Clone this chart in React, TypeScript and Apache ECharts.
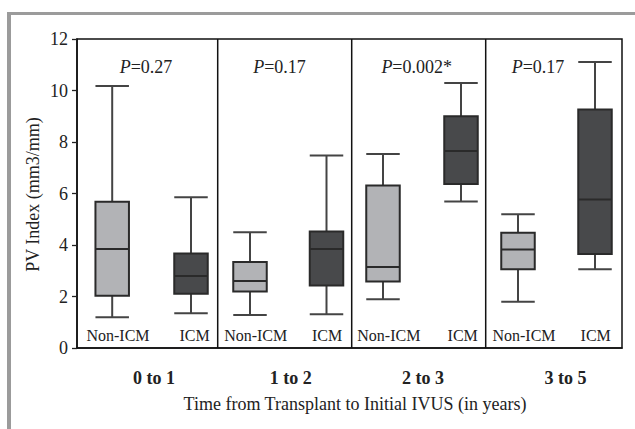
import React, { useEffect, useRef } from "react";
import * as echarts from "echarts";

// ---- data ----
const groups = ["0 to 1", "1 to 2", "2 to 3", "3 to 5"];
const pValues = ["0.27", "0.17", "0.002*", "0.17"];
const typeNames = ["Non-ICM", "ICM"];

const nonIcmMin = [1.19, 1.28, 1.89, 1.8];
const nonIcmQ1 = [2.03, 2.19, 2.58, 3.06];
const nonIcmMedian = [3.84, 2.6, 3.15, 3.83];
const nonIcmQ3 = [5.68, 3.34, 6.31, 4.48];
const nonIcmMax = [10.17, 4.5, 7.53, 5.19];

const icmMin = [1.35, 1.31, 5.69, 3.06];
const icmQ1 = [2.11, 2.43, 6.37, 3.65];
const icmMedian = [2.8, 3.84, 7.65, 5.77];
const icmQ3 = [3.67, 4.52, 9.0, 9.26];
const icmMax = [5.85, 7.48, 10.29, 11.11];

const yTicks = [0, 2, 4, 6, 8, 10, 12];

// ---- layout (x axis in plot units) ----
const X_MAX = 545;
const nonIcmX = [35.2, 173, 306, 441];
const icmX = [114, 249.5, 384, 518];
const dividerX = [140.7, 274.7, 408.7];
const BOX_W = 33.5;

const FONT = "'Liberation Serif', 'Times New Roman', serif";
const TXT = "#222";
const LIGHT = "#b2b3b6";
const DARK = "#48494b";

export default function App() {
  const ref = useRef<HTMLDivElement>(null);

  useEffect(() => {
    if (!ref.current) return;
    const chart = echarts.init(ref.current, undefined, { renderer: "svg" });

    const boxData: number[][] = [];
    groups.forEach((_, i) => {
      boxData.push([nonIcmX[i], nonIcmMin[i], nonIcmQ1[i], nonIcmMedian[i], nonIcmQ3[i], nonIcmMax[i], 0]);
      boxData.push([icmX[i], icmMin[i], icmQ1[i], icmMedian[i], icmQ3[i], icmMax[i], 1]);
    });

    const pLabelX = [146, 279.5, 416.7, 538];
    const typeLabelX = [118, 194.5, 255.7, 327, 388.8, 462.7, 524, 595.7];
    const groupLabelX = [154, 290.8, 423, 565.5];

    const graphics: any[] = [
      { type: "rect", shape: { x: 7, y: 12, width: 4, height: 420 }, style: { fill: "#9b9b9b" } },
      { type: "rect", shape: { x: 7, y: 12, width: 630, height: 3 }, style: { fill: "#9b9b9b" } },
      {
        type: "text",
        x: 33,
        y: 194.5,
        rotation: Math.PI / 2,
        style: {
          text: "PV Index (mm3/mm)",
          font: `18px ${FONT}`,
          fill: TXT,
          align: "center",
          verticalAlign: "middle",
        },
      },
      {
        type: "text",
        x: 355,
        y: 404,
        style: {
          text: "Time from Transplant to Initial IVUS (in years)",
          font: `18px ${FONT}`,
          fill: TXT,
          align: "center",
          verticalAlign: "middle",
        },
      },
    ];
    groups.forEach((g, i) => {
      graphics.push({
        type: "text",
        x: groupLabelX[i],
        y: 377.5,
        style: { text: g, font: `bold 18px ${FONT}`, fill: TXT, align: "center", verticalAlign: "middle" },
      });
      graphics.push({
        type: "text",
        x: pLabelX[i],
        y: 66.5,
        style: {
          text: `{i|P}=${pValues[i]}`,
          font: `18px ${FONT}`,
          fill: TXT,
          align: "center",
          verticalAlign: "middle",
          rich: { i: { fontStyle: "italic", fontSize: 18, fontFamily: FONT, fill: TXT } },
        },
      });
      for (let k = 0; k < 2; k++) {
        graphics.push({
          type: "text",
          x: typeLabelX[i * 2 + k],
          y: 335.5,
          style: {
            text: typeNames[k],
            font: `16px ${FONT}`,
            fill: TXT,
            align: "center",
            verticalAlign: "middle",
          },
        });
      }
    });

    chart.setOption({
      animation: false,
      grid: {
        left: 77,
        right: 13,
        top: 39,
        bottom: 81,
        show: true,
        borderColor: "#111",
        borderWidth: 1.5,
        backgroundColor: "transparent",
      },
      xAxis: {
        type: "value",
        min: 0,
        max: X_MAX,
        axisLine: { show: true, lineStyle: { color: "#111", width: 1.5 } },
        axisTick: { show: false },
        axisLabel: { show: false },
        splitLine: { show: false },
      },
      yAxis: {
        type: "value",
        min: yTicks[0],
        max: yTicks[yTicks.length - 1],
        interval: 2,
        axisLine: { show: true, lineStyle: { color: "#111", width: 1.5 } },
        axisTick: { show: true, length: 5, lineStyle: { color: "#222", width: 1.3 } },
        axisLabel: { margin: 9, fontFamily: FONT, fontSize: 18, color: TXT },
        splitLine: { show: false },
      },
      series: [
        {
          type: "custom",
          silent: true,
          data: dividerX.map((x) => [x]),
          encode: { x: 0 },
          renderItem: (params: any, api: any) => {
            const x = api.value(0);
            const p0 = api.coord([x, 0]);
            const p1 = api.coord([x, 12]);
            return {
              type: "line",
              shape: { x1: p0[0], y1: p0[1], x2: p1[0], y2: p1[1] },
              style: { stroke: "#111", lineWidth: 1.5 },
            };
          },
        },
        {
          type: "custom",
          silent: true,
          data: boxData,
          encode: { x: 0, y: [1, 2, 3, 4, 5] },
          renderItem: (params: any, api: any) => {
            const x = api.value(0);
            const cx = api.coord([x, 0])[0];
            const yMin = api.coord([x, api.value(1)])[1];
            const yQ1 = api.coord([x, api.value(2)])[1];
            const yMed = api.coord([x, api.value(3)])[1];
            const yQ3 = api.coord([x, api.value(4)])[1];
            const yMax = api.coord([x, api.value(5)])[1];
            const half = api.size([BOX_W, 0])[0] / 2;
            const fill = api.value(6) === 0 ? LIGHT : DARK;
            const wStyle = { stroke: "#444", lineWidth: 2 };
            return {
              type: "group",
              children: [
                { type: "line", shape: { x1: cx, y1: yMax, x2: cx, y2: yQ3 }, style: wStyle },
                { type: "line", shape: { x1: cx, y1: yQ1, x2: cx, y2: yMin }, style: wStyle },
                { type: "line", shape: { x1: cx - half, y1: yMax, x2: cx + half, y2: yMax }, style: wStyle },
                { type: "line", shape: { x1: cx - half, y1: yMin, x2: cx + half, y2: yMin }, style: wStyle },
                {
                  type: "rect",
                  shape: { x: cx - half, y: yQ3, width: half * 2, height: yQ1 - yQ3 },
                  style: { fill, stroke: "#2a2a2a", lineWidth: 2 },
                },
                {
                  type: "line",
                  shape: { x1: cx - half, y1: yMed, x2: cx + half, y2: yMed },
                  style: { stroke: "#2a2a2a", lineWidth: 2 },
                },
              ],
            };
          },
        },
      ],
      graphic: graphics,
    });

    return () => chart.dispose();
  }, []);

  return (
    <div
      ref={ref}
      style={{ position: "fixed", left: 0, top: 0, width: 635, height: 429, background: "#fff" }}
    />
  );
}
